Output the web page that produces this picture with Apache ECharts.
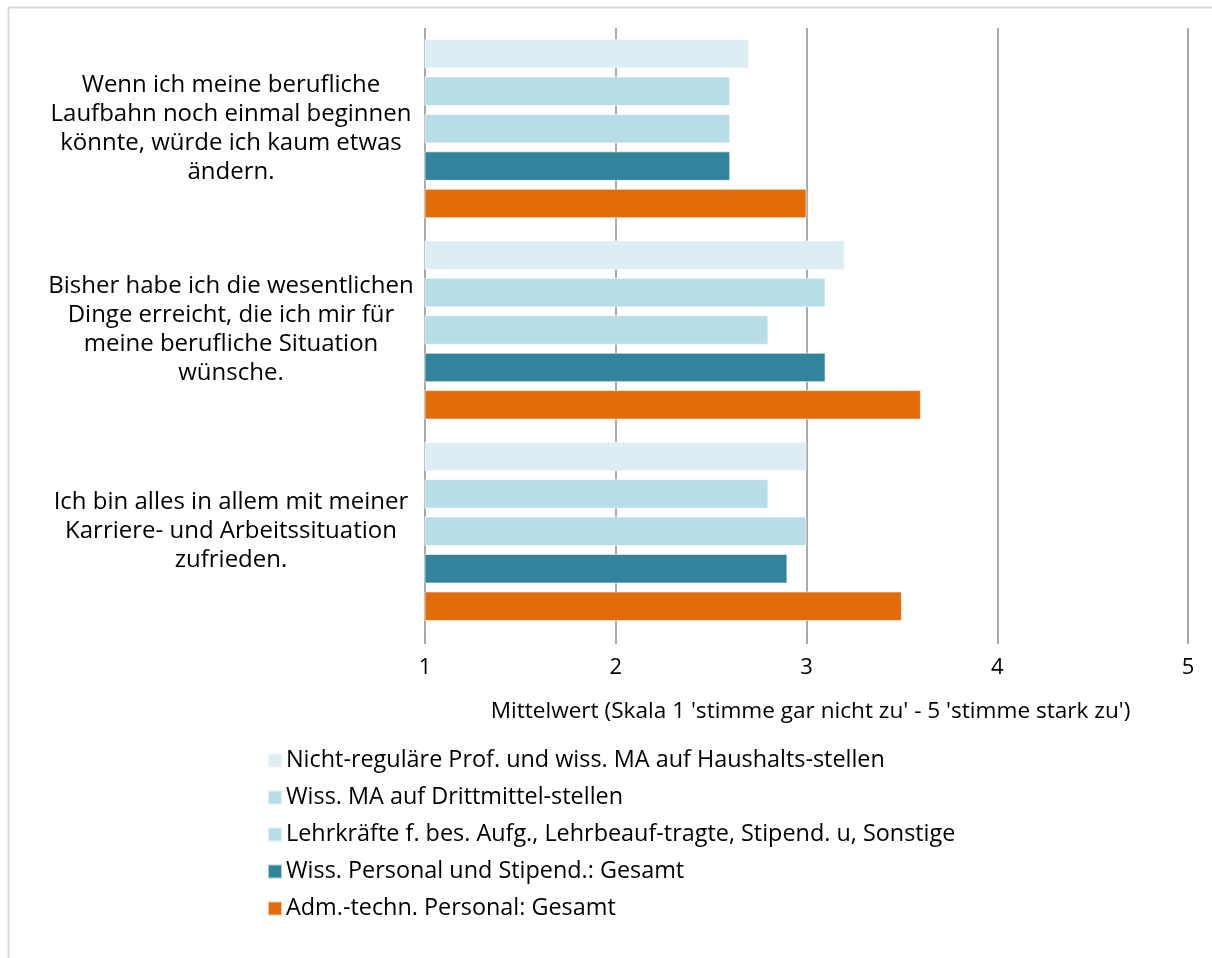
<!DOCTYPE html>
<html>
<head>
<meta charset="utf-8">
<script src="https://cdn.jsdelivr.net/npm/echarts@6/dist/echarts.min.js"></script>
<style>
  html, body { margin: 0; padding: 0; background: #fff; }
  #chart { width: 1212px; height: 958px; }
</style>
</head>
<body>
<div id="chart"></div>
<script>
// Survey statements (top to bottom)
const categories = [
  'Wenn ich meine berufliche\nLaufbahn noch einmal beginnen\nkönnte, würde ich kaum etwas\nändern.',
  'Bisher habe ich die wesentlichen\nDinge erreicht, die ich mir für\nmeine berufliche Situation\nwünsche.',
  'Ich bin alles in allem mit meiner\nKarriere- und Arbeitssituation\nzufrieden.'
];

// Group names
const seriesNames = [
  'Nicht-reguläre Prof. und wiss. MA auf Haushalts-stellen',
  'Wiss. MA auf Drittmittel-stellen',
  'Lehrkräfte f. bes. Aufg., Lehrbeauf-tragte, Stipend. u, Sonstige',
  'Wiss. Personal und Stipend.: Gesamt',
  'Adm.-techn. Personal: Gesamt'
];

// Mean values per group, one entry per statement
const nichtRegulaer   = [2.7, 3.2, 3.0];
const drittmittel     = [2.6, 3.1, 2.8];
const lehrkraefte     = [2.6, 2.8, 3.0];
const wissGesamt      = [2.6, 3.1, 2.9];
const admTechnGesamt  = [3.0, 3.6, 3.5];

const xTicks = [1, 2, 3, 4, 5];

const colors = ['#DCEEF4', '#B7DDE8', '#B7DDE8', '#31849B', '#E36C0A'];
const values = [nichtRegulaer, drittmittel, lehrkraefte, wissGesamt, admTechnGesamt];

const FONT = '"Open Sans", sans-serif';

const chart = echarts.init(document.getElementById('chart'), null, { renderer: 'canvas' });

chart.setOption({
  animation: false,
  backgroundColor: '#fff',
  graphic: [{
    type: 'rect',
    left: 6, top: 5,
    shape: { width: 1300, height: 1100 },
    style: { fill: 'none', stroke: '#d9d9d9', lineWidth: 2 },
    silent: true
  }],
  grid: { left: 425, right: 24, top: 28, bottom: 326, containLabel: false },
  legend: {
    orient: 'vertical',
    left: 262,
    top: 741,
    itemWidth: 14,
    itemHeight: 14,
    itemGap: 8,
    icon: 'rect',
    data: seriesNames,
    textStyle: { fontFamily: FONT, fontSize: 23.4, color: '#000', padding: [0, 0, 0, -1], lineHeight: 29 }
  },
  xAxis: {
    type: 'value',
    min: xTicks[0],
    max: xTicks[xTicks.length - 1],
    interval: 1,
    name: "Mittelwert (Skala 1 'stimme gar nicht zu' - 5 'stimme stark zu')",
    nameLocation: 'middle',
    nameGap: 68,
    nameTextStyle: { fontFamily: FONT, fontSize: 22.6, color: '#000', padding: [0, 0, 0, 8] },
    axisLine: { show: false },
    axisTick: { show: true, length: 12, lineStyle: { color: '#8c8c8c', width: 1.5 } },
    axisLabel: { fontFamily: FONT, fontSize: 22, color: '#000', margin: 25 },
    splitLine: { show: true, lineStyle: { color: '#8c8c8c', width: 1.5 } }
  },
  yAxis: {
    type: 'category',
    inverse: true,
    data: categories,
    axisLine: { show: false },
    axisTick: { show: false },
    axisLabel: {
      fontFamily: FONT, fontSize: 24, color: '#000',
      align: 'center', margin: 194, lineHeight: 29
    }
  },
  series: values.map((v, i) => ({
    name: seriesNames[i],
    type: 'bar',
    data: v,
    clip: true,
    barGap: '27%',
    barCategoryGap: '11%',
    itemStyle: { color: colors[i], borderColor: 'rgba(255,255,255,0.6)', borderWidth: 1 }
  }))
});
</script>
</body>
</html>
